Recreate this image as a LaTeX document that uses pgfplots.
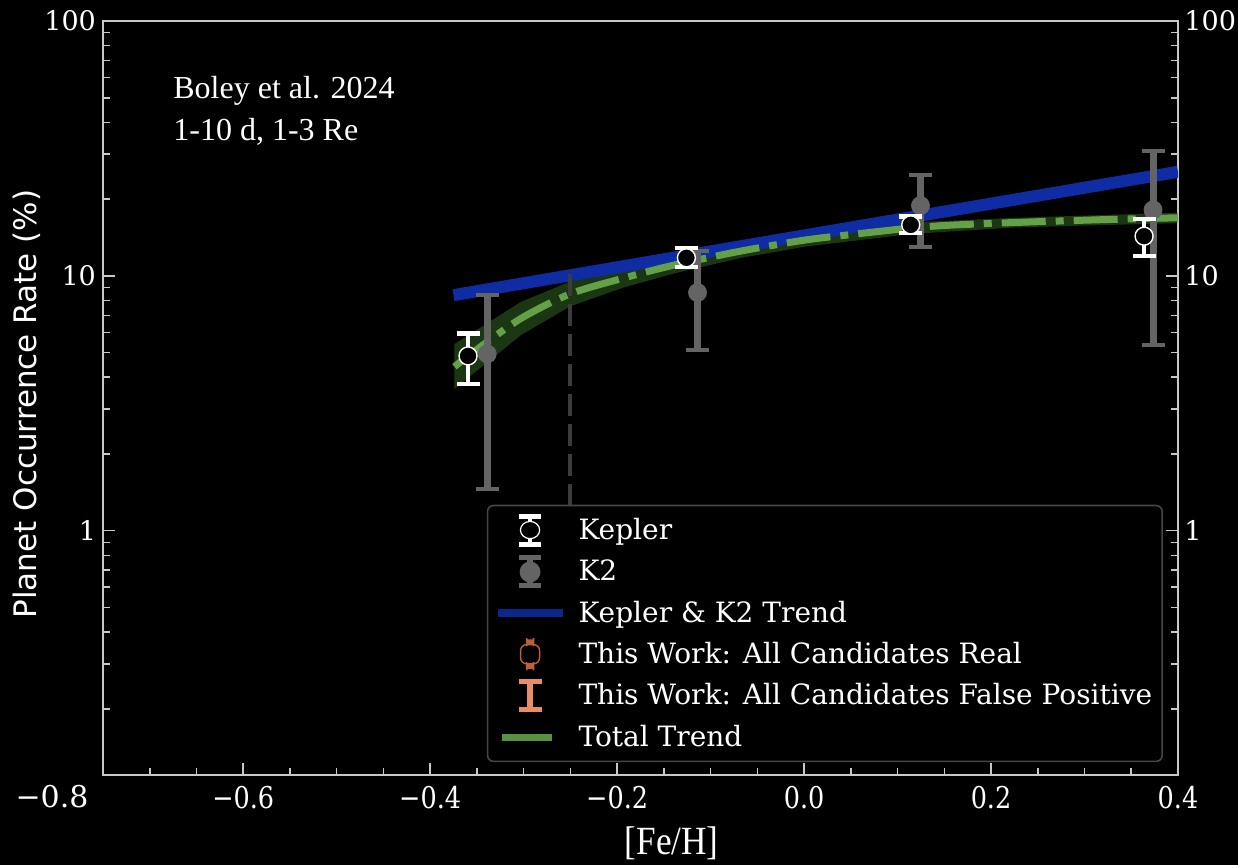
\documentclass[border=0pt]{standalone}
\usepackage{pgfplots}
\pgfplotsset{compat=1.18}
\usepackage{pgfplotstable}
\usepgfplotslibrary{fillbetween}
\usepackage{fontspec}
\setmainfont{DejaVu Serif}
\newfontfamily\legfont{DejaVu Serif}
\newfontfamily\ylabfont{DejaVu Sans}
\newfontfamily\timesfont{Liberation Serif}
\newfontfamily\xlabfont[FakeStretch=0.88]{Liberation Serif}
\newfontfamily\xtickfont[FakeStretch=0.85]{DejaVu Serif}

\definecolor{axgray}{RGB}{200,200,200}
\definecolor{trendblue}{RGB}{16,44,165}
\definecolor{legblue}{RGB}{10,40,140}
\definecolor{k2gray}{RGB}{100,100,100}
\definecolor{trendgreen}{RGB}{100,160,72}
\definecolor{bandgreen}{RGB}{60,120,40}
\definecolor{dashgray}{RGB}{60,60,60}
\definecolor{realbrown}{RGB}{190,95,60}
\definecolor{fpsalmon}{RGB}{232,140,105}
\definecolor{leggray}{RGB}{70,70,70}

\pgfplotstableread{
x y ep em
-0.3595 4.85 1.08 1.08
-0.1259 11.77 1.10 0.93
0.1141 15.85 1.23 1.11
0.3637 14.31 2.39 2.36
}\kepler

\pgfplotstableread{
x y ep em
-0.339 4.94 3.48 3.48
-0.114 8.60 3.95 3.47
0.1245 18.87 6.03 5.91
0.3733 18.14 12.86 12.81
}\ktwo

\pgfplotstableread{
x y
-0.375 8.4
0.4 25.6
}\bluetrend

\pgfplotstableread{
x y
-0.374 4.4
-0.353 5.05
-0.303 6.8
-0.25 8.5
-0.193 9.8
-0.14 11.0
-0.068 12.5
0.0 13.8
0.049 14.5
0.114 15.4
0.156 15.8
0.227 16.2
0.316 16.6
0.4 16.9
}\gmid

\pgfplotstableread{
x y
-0.374 5.4
-0.303 7.9
-0.25 9.5
-0.193 10.7
-0.14 11.9
-0.068 13.3
0.0 14.6
0.114 16.2
0.227 16.9
0.4 17.7
}\gup

\pgfplotstableread{
x y
-0.374 3.6
-0.303 5.85
-0.25 7.6
-0.193 9.0
-0.14 10.2
-0.068 11.75
0.0 13.0
0.114 14.6
0.227 15.5
0.4 16.1
}\glo

\pagecolor{black}
\begin{document}
\begin{tikzpicture}
\begin{axis}[
  at={(0pt,0pt)}, anchor=south west, scale only axis,
  width=537.5pt, height=377pt,
  xmin=-0.75, xmax=0.4, ymin=0.11, ymax=100, ymode=log,
  clip mode=individual,
  axis line style={axgray, line width=0.8pt},
  tick style={axgray, line width=0.8pt},
  tick align=inside,
  major tick length=6pt, minor tick length=3.5pt,
  xtick pos=bottom, ytick pos=both,
  xtick={-0.6,-0.4,-0.2,0,0.2,0.4},
  xticklabels={−0.6,−0.4,−0.2,0.0,0.2,0.4},
  minor xtick={-0.7,-0.65,-0.55,-0.5,-0.45,-0.35,-0.3,-0.25,-0.15,-0.1,-0.05,0.05,0.1,0.15,0.25,0.3,0.35},
  ytick={1,10,100}, yticklabels={1,10,100},
  minor ytick={0.2,0.3,0.4,0.5,0.6,0.7,0.8,0.9,2,3,4,5,6,7,8,9,20,30,40,50,60,70,80,90},
  xticklabel style={text=white, font=\xtickfont\fontsize{15}{18}\selectfont, yshift=-2pt},
  yticklabel style={text=white, font=\fontsize{13.5}{16}\selectfont},
  xlabel={[Fe/H]},
  xlabel style={at={(axis description cs:0.529,-0.0902)}, anchor=center, text=white, font=\xlabfont\fontsize{20}{24}\selectfont},
  ylabel={Planet Occurrence Rate (\%)},
  ylabel style={at={(axis description cs:-0.0707,0.492)}, anchor=center, text=white, font=\ylabfont\fontsize{15.5}{18}\selectfont},
  legend style={at={(0.986,0.017)}, anchor=south east, fill=black, draw=leggray, line width=0.8pt, rounded corners=3pt, text=white, font=\legfont\fontsize{14}{16}\selectfont, row sep=4.2pt, inner xsep=3pt, inner ysep=4pt,
    /tikz/every odd column/.append style={column sep=4pt}},
  legend cell align=left,
]
% Kepler & K2 trend
\addplot[trendblue, line width=6pt, forget plot] table[x=x,y=y] {\bluetrend};
% total trend band
\addplot[name path=gup, draw=none, forget plot] table[x=x,y=y] {\gup};
\addplot[name path=glo, draw=none, forget plot] table[x=x,y=y] {\glo};
\addplot[fill=bandgreen, fill opacity=0.45, draw=none, forget plot] fill between[of=gup and glo];
\addplot[trendgreen, line width=3.5pt, smooth, dash pattern=on 22pt off 5pt on 4pt off 5pt, forget plot] table[x=x,y=y] {\gmid};
% vertical dashed line
\addplot[dashgray, line width=2pt, dash pattern=on 11pt off 4pt, forget plot] coordinates {(-0.25,10.2) (-0.25,0.2)};
% K2
\addplot[forget plot, only marks, mark=*, mark size=4.5pt, mark options={fill=k2gray, draw=k2gray},
  error bars/.cd, y dir=both, y explicit,
  error bar style={k2gray, line width=3.5pt},
  error mark options={rotate=90, k2gray, mark size=5.75pt, line width=2pt}]
  table[x=x, y=y, y error plus=ep, y error minus=em] {\ktwo};
% Kepler
\addplot[forget plot, only marks, mark=*, mark size=4.5pt, mark options={fill=black, draw=white, line width=0.7pt},
  error bars/.cd, y dir=both, y explicit,
  error bar style={white, line width=2pt},
  error mark options={rotate=90, white, mark size=5.75pt, line width=2.2pt}]
  table[x=x, y=y, y error plus=ep, y error minus=em] {\kepler};

\node[anchor=north west, align=left, inner sep=0pt, text=white, font=\timesfont\fontsize{16}{21}\selectfont] at (rel axis cs:0.0651,0.927) {Boley et al. 2024\\1-10 d, 1-3 Re};

% right-hand tick labels
\node[anchor=west, text=white, font=\fontsize{13.5}{16}\selectfont, inner sep=0pt] at ([xshift=3pt]axis cs:0.4,100) {100};
\node[anchor=west, text=white, font=\fontsize{13.5}{16}\selectfont, inner sep=0pt] at ([xshift=3pt]axis cs:0.4,10) {10};
\node[anchor=west, text=white, font=\fontsize{13.5}{16}\selectfont, inner sep=0pt] at ([xshift=3pt]axis cs:0.4,1) {1};

% legend
\addlegendimage{legend image code/.code={
  \path (0pt,0pt) -- (33pt,0pt);
  \draw[white, line width=1.8pt] (16.25pt,-7pt) -- (16.25pt,7pt);
  \draw[white, line width=2.5pt] (10.75pt,-7pt) -- (21.75pt,-7pt);
  \draw[white, line width=2.5pt] (10.75pt,7pt) -- (21.75pt,7pt);
  \draw[white, fill=black, line width=0.6pt] (16.25pt,0pt) ellipse (4.8pt and 4.3pt);
}}
\addlegendentry{Kepler}
\addlegendimage{legend image code/.code={
  \path (0pt,0pt) -- (33pt,0pt);
  \draw[k2gray, line width=3pt] (16.25pt,-7pt) -- (16.25pt,7pt);
  \draw[k2gray, line width=2.5pt] (10.75pt,-7pt) -- (21.75pt,-7pt);
  \draw[k2gray, line width=2.5pt] (10.75pt,7pt) -- (21.75pt,7pt);
  \fill[k2gray] (16.25pt,0pt) ellipse (4.8pt and 4.8pt);
}}
\addlegendentry{K2}
\addlegendimage{legend image code/.code={
  \path (0pt,0pt) -- (33pt,0pt);
  \draw[legblue, line width=4pt] (0pt,0pt) -- (32.5pt,0pt);
}}
\addlegendentry{Kepler \& K2 Trend}
\addlegendimage{legend image code/.code={
  \path (0pt,0pt) -- (33pt,0pt);
  \fill[realbrown] (14.5pt,5pt) rectangle (18pt,7pt);
  \fill[realbrown] (14.5pt,-5pt) rectangle (18pt,-7pt);
  \draw[realbrown, line width=0.7pt] (11.5pt,-4.8pt) rectangle (21pt,4.8pt);
}}
\addlegendentry{This Work: All Candidates Real}
\addlegendimage{legend image code/.code={
  \path (0pt,0pt) -- (33pt,0pt);
  \draw[fpsalmon, line width=3pt] (16.25pt,-7pt) -- (16.25pt,7pt);
  \draw[fpsalmon, line width=2.5pt] (10.5pt,-7pt) -- (22pt,-7pt);
  \draw[fpsalmon, line width=2.5pt] (10.5pt,7pt) -- (22pt,7pt);
}}
\addlegendentry{This Work: All Candidates False Positive}
\addlegendimage{legend image code/.code={
  \path (0pt,0pt) -- (33pt,0pt);
  \draw[trendgreen!90!black, line width=3.5pt] (2pt,0pt) -- (27pt,0pt);
}}
\addlegendentry{Total Trend}
\end{axis}
\node[text=white, font=\fontsize{15}{17}\selectfont] at (-25.5pt,-11pt) {−0.8};
\pgfresetboundingbox
\path[use as bounding box] (-51.5pt,-45pt) rectangle (567.5pt,387.5pt);
\end{tikzpicture}
\end{document}
